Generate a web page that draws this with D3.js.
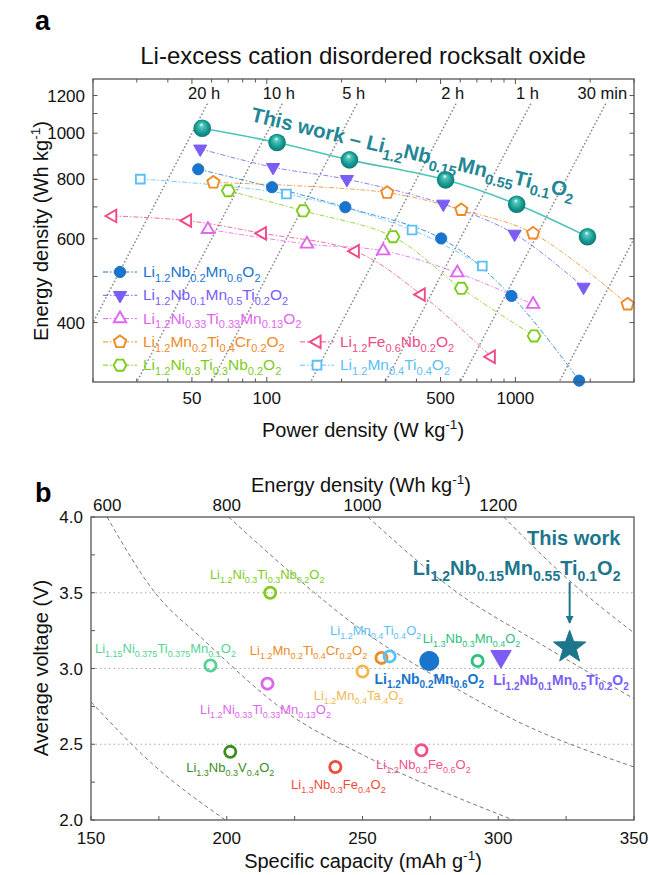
<!DOCTYPE html>
<html>
<head>
<meta charset="utf-8">
<script src="https://cdn.jsdelivr.net/npm/d3@7"></script>
<style>
  body { margin: 0; padding: 0; background: white; }
  svg text { font-family: "Liberation Sans", Arial, sans-serif; }
</style>
</head>
<body>
<script>
// ---------- panel a : Ragone plot (power density vs energy density, W/kg & Wh/kg) ----------
var thisWorkPE = [[55,1024],[110,956],[215,879],[524,798],[1012,709],[1950,606]];
var nbMnPE     = [[53,840],[105,770],[207,699],[503,601],[964,455],[1805,302]];
var nbMnTiPE   = [[54,927],[106,848],[210,800],[513,710],[993,614],[1880,475]];
var niTiMnPE   = [[58,628],[145,585],[294,566],[584,509],[1178,437]];
var mnTiCrPE   = [[61,788],[305,750],[606,690],[1178,616],[2828,437]];
var niTiNbPE   = [[70,757],[140,687],[322,606],[606,472],[1189,375]];
var feNbPE     = [[24,670],[48,655],[96,616],[227,565],[418,458],[800,339]];
var mnTiPE     = [[31,801],[120,745],[384,626],[736,526]];

var namesA = ["Li1.2Nb0.2Mn0.6O2","Li1.2Nb0.1Mn0.5Ti0.2O2","Li1.2Ni0.33Ti0.33Mn0.13O2",
              "Li1.2Mn0.2Ti0.4Cr0.2O2","Li1.2Ni0.3Ti0.3Nb0.2O2","Li1.2Fe0.6Nb0.2O2","Li1.2Mn0.4Ti0.4O2"];
var seriesA = [nbMnPE, nbMnTiPE, niTiMnPE, mnTiCrPE, niTiNbPE, feNbPE, mnTiPE];

// discharge time lines (hours) drawn as E = t * P
var rateHours  = [20, 10, 5, 2, 1, 0.5, 0.2];
var rateLabels = ["20 h","10 h","5 h","2 h","1 h","30 min",""];

// ---------- panel b : average voltage vs specific capacity ----------
var namesB = ["Li1.2Ni0.3Ti0.3Nb0.2O2","Li1.15Ni0.375Ti0.375Mn0.1O2","Li1.2Ni0.33Ti0.33Mn0.13O2",
              "Li1.2Mn0.4Ta.4O2","Li1.2Mn0.2Ti0.4Cr0.2O2","Li1.2Mn0.4Ti0.4O2","Li1.2Nb0.2Mn0.6O2",
              "Li1.3Nb0.3Mn0.4O2","Li1.2Nb0.1Mn0.5Ti0.2O2","Li1.3Nb0.3V0.4O2","Li1.3Nb0.3Fe0.4O2",
              "Li1.2Nb0.2Fe0.6O2"];
var capacityB = [216, 194, 215, 250, 257, 260, 274.6, 292.4, 301, 201.3, 240, 271.7];
var voltageB  = [3.50, 3.02, 2.90, 2.98, 3.07, 3.08, 3.05, 3.05, 3.08, 2.45, 2.35, 2.46];
var thisWorkCap = 326.3, thisWorkVolt = 3.14;

// constant energy guide curves, points as (capacity, voltage)
var energyGuides = [
  [[150,2.78],[172,2.38],[199.5,2.0]],
  [[155.9,4.0],[173.6,3.5],[191.4,3.19],[224.5,2.68],[249,2.44],[305.6,2.0]],
  [[200.7,4.0],[227,3.58],[245.5,3.31],[283.4,2.88],[306,2.66],[350,2.35]],
  [[252,4.0],[285,3.5],[313,3.19],[350,2.8]],
  [[302,4.0],[325,3.6],[350,3.235]]
];
var energyTicks = [600, 800, 1000, 1200];

// ---------- styles ----------
var colorsA = ["#1874cd","#7b5cf5","#e066f0","#f08a24","#7ccc1a","#f04a8a","#5cc0f8"];
var shapesA = ["circle","tridown","triup","pent","hex","trileft","square"];
var filledA = [true, true, false, false, false, false, false];
var colorsB = ["#80cc1a","#55d393","#dd66ee","#f0b850","#f08a24","#5cc0f8","#1874cd",
               "#2cc07a","#7b5cf5","#3d8c1e","#f04b3c","#f0508c"];
var teal = "#1f8795", tealDark = "#1d768c";

var svg = d3.select("body").append("svg").attr("width", 649).attr("height", 875);
var defs = svg.append("defs");

var grad = defs.append("radialGradient").attr("id","sphere")
  .attr("cx","50%").attr("cy","50%").attr("r","55%").attr("fx","45%").attr("fy","28%");
grad.append("stop").attr("offset","0%").attr("stop-color","#f4fffd");
grad.append("stop").attr("offset","22%").attr("stop-color","#52c6bb");
grad.append("stop").attr("offset","65%").attr("stop-color","#139a92");
grad.append("stop").attr("offset","100%").attr("stop-color","#0c6f6a");

defs.append("clipPath").attr("id","clipA").append("rect")
  .attr("x",93).attr("y",79).attr("width",541).attr("height",303);
defs.append("clipPath").attr("id","clipB").append("rect")
  .attr("x",91).attr("y",517).attr("width",543).attr("height",303);

defs.append("marker").attr("id","arrowHead").attr("viewBox","0 0 10 10")
  .attr("refX",9).attr("refY",5).attr("markerWidth",4).attr("markerHeight",4)
  .attr("orient","auto")
  .append("path").attr("d","M0,0 L10,5 L0,10 z").attr("fill",tealDark);

// chemical formula with subscripts
function chem(textSel, str, fs, ss) {
  var parts = str.match(/[0-9.]+|[^0-9.]+/g);
  var down = false, shift = fs * 0.3;
  parts.forEach(function(p) {
    var num = /^[0-9.]+$/.test(p);
    var t = textSel.append("tspan").attr("font-size", num ? ss : fs).text(p);
    if (num && !down) { t.attr("dy", shift); down = true; }
    else if (!num && down) { t.attr("dy", -shift); down = false; }
  });
  return textSel;
}

function unitText(textSel, before, sup, after, fs) {
  textSel.append("tspan").text(before);
  textSel.append("tspan").attr("font-size", fs * 0.68).attr("dy", -fs * 0.38).text(sup);
  textSel.append("tspan").attr("dy", fs * 0.38).text(after);
}

function polygon(n, r, rot, inner) {
  var pts = [];
  var k = inner ? 2 * n : n;
  for (var i = 0; i < k; i++) {
    var rr = (inner && i % 2 == 1) ? inner : r;
    var a = (rot + i * 360 / k - 90) * Math.PI / 180;
    pts.push([rr * Math.cos(a), rr * Math.sin(a)]);
  }
  return "M" + pts.map(function(p){ return p[0].toFixed(2) + "," + p[1].toFixed(2); }).join("L") + "Z";
}

function drawMarker(g, shape, x, y, color, filled, s) {
  s = s || 1;
  var el;
  if (shape == "circle") {
    el = g.append("circle").attr("cx", x).attr("cy", y).attr("r", (filled ? 5.6 : 5) * s);
  } else {
    var d;
    if (shape == "tridown") d = polygon(3, 7.6 * s, 180);
    if (shape == "triup")   d = polygon(3, 7.2 * s, 0);
    if (shape == "trileft") d = polygon(3, 7.2 * s, -90);
    if (shape == "pent")    d = polygon(5, 6.4 * s, 0);
    if (shape == "hex")     d = polygon(6, 6.4 * s, 30);
    if (shape == "square")  d = polygon(4, 6.2 * s, 45);
    if (shape == "star")    d = polygon(5, 17 * s, 0, 7 * s);
    el = g.append("path").attr("d", d).attr("transform", "translate(" + x + "," + y + ")");
  }
  if (filled) el.attr("fill", color).attr("stroke", color).attr("stroke-width", 1);
  else el.attr("fill", "white").attr("stroke", color).attr("stroke-width", 1.9);
  return el;
}

// ============================ panel a ============================
var xA = d3.scaleLog().domain([20, 3000]).range([93, 634]);
var yA = d3.scaleLog().domain([300, 1300]).range([382, 79]);

svg.append("text").attr("x", 35).attr("y", 30).attr("font-size", 27).attr("font-weight", "bold")
  .text("a");
svg.append("text").attr("x", 363).attr("y", 64).attr("text-anchor", "middle").attr("font-size", 24)
  .attr("fill", "#111").text("Li-excess cation disordered rocksalt oxide");

var gA = svg.append("g");

// rate lines
var plotA = gA.append("g").attr("clip-path", "url(#clipA)");
rateHours.forEach(function(t, i) {
  plotA.append("line")
    .attr("x1", xA(1150 / t)).attr("y1", yA(1150))
    .attr("x2", xA(300 / t)).attr("y2", yA(300))
    .attr("stroke", "#8a8a8a").attr("stroke-width", 1.7)
    .attr("stroke-dasharray", "0.1,3.6").attr("stroke-linecap", "round");
  if (rateLabels[i]) {
    gA.append("text").attr("x", xA(1150 / t) - 3).attr("y", 99)
      .attr("text-anchor", "middle").attr("font-size", 16.5).attr("fill", "#111")
      .text(rateLabels[i]);
  }
});

var lineA = d3.line().x(function(d){ return xA(d[0]); }).y(function(d){ return yA(d[1]); })
  .curve(d3.curveCatmullRom.alpha(0.5));

seriesA.forEach(function(s, i) {
  plotA.append("path").attr("d", lineA(s)).attr("fill", "none")
    .attr("stroke", colorsA[i]).attr("stroke-width", 1).attr("stroke-opacity", 0.8)
    .attr("stroke-dasharray", "5,2,1.5,2");
});
plotA.append("path").attr("d", lineA(thisWorkPE)).attr("fill", "none")
  .attr("stroke", "#4cc4b8").attr("stroke-width", 1.6);

var markA = gA.append("g");
seriesA.forEach(function(s, i) {
  s.forEach(function(d) {
    drawMarker(markA, shapesA[i], xA(d[0]), yA(d[1]), colorsA[i], filledA[i]);
  });
});
markA.selectAll("circle.tw").data(thisWorkPE).enter().append("circle")
  .attr("class", "tw")
  .attr("cx", function(d){ return xA(d[0]); }).attr("cy", function(d){ return yA(d[1]); })
  .attr("r", 8.8).attr("fill", "url(#sphere)");

// label along the curve
var twLabel = gA.append("text").attr("transform", "translate(250,121) rotate(13.5)")
  .attr("font-weight", "bold").attr("fill", teal);
twLabel.append("tspan").attr("font-size", 20.5).text("This work \u2013 ");
chem(twLabel, "Li1.2Nb0.15Mn0.55Ti0.1O2", 20.5, 14.5);

// legend
namesA.forEach(function(name, i) {
  var col = i < 5 ? 0 : 1;
  var row = i < 5 ? i : i - 2;
  var mx = col == 0 ? 120 : 317;
  var ly = 272 + row * 23.3;
  gA.append("line").attr("x1", mx - 17).attr("x2", mx + 17).attr("y1", ly).attr("y2", ly)
    .attr("stroke", colorsA[i]).attr("stroke-width", 1).attr("stroke-dasharray", "5,2,1.5,2");
  drawMarker(gA, shapesA[i], mx, ly, colorsA[i], filledA[i]);
  var t = gA.append("text").attr("x", mx + 23).attr("y", ly + 5).attr("fill", colorsA[i]);
  chem(t, name, 15.5, 11);
});

// frame and ticks
gA.append("rect").attr("x", 93).attr("y", 79).attr("width", 541).attr("height", 303)
  .attr("fill", "none").attr("stroke", "#555").attr("stroke-width", 1.3);

var xTicksA = d3.range(20, 100, 10).concat(d3.range(100, 1000, 100)).concat([1000, 2000, 3000]);
var xLabelsA = [50, 100, 500, 1000];
xTicksA.forEach(function(v) {
  var L = xLabelsA.indexOf(v) >= 0 ? 5 : 3.5;
  gA.append("line").attr("x1", xA(v)).attr("x2", xA(v)).attr("y1", 382).attr("y2", 382 - L)
    .attr("stroke", "#555");
  gA.append("line").attr("x1", xA(v)).attr("x2", xA(v)).attr("y1", 79).attr("y2", 79 + L)
    .attr("stroke", "#555");
});
xLabelsA.forEach(function(v) {
  gA.append("text").attr("x", xA(v)).attr("y", 404).attr("text-anchor", "middle")
    .attr("font-size", 17).attr("fill", "#111").text(v);
});
var yTicksA = d3.range(400, 1300, 100);
var yLabelsA = [400, 600, 800, 1000, 1200];
yTicksA.forEach(function(v) {
  gA.append("line").attr("x1", 93).attr("x2", 97.5).attr("y1", yA(v)).attr("y2", yA(v)).attr("stroke", "#555");
  gA.append("line").attr("x1", 634).attr("x2", 629.5).attr("y1", yA(v)).attr("y2", yA(v)).attr("stroke", "#555");
});
yLabelsA.forEach(function(v) {
  gA.append("text").attr("x", 85).attr("y", yA(v) + 6).attr("text-anchor", "end")
    .attr("font-size", 17).attr("fill", "#111").text(v);
});

unitText(gA.append("text").attr("x", 363).attr("y", 437).attr("text-anchor", "middle")
  .attr("font-size", 20).attr("fill", "#111"), "Power density (W kg", "-1", ")", 20);
unitText(gA.append("text").attr("transform", "translate(48,231) rotate(-90)").attr("text-anchor", "middle")
  .attr("font-size", 20).attr("fill", "#111"), "Energy density (Wh kg", "-1", ")", 20);

// ============================ panel b ============================
var xB = d3.scaleLinear().domain([150, 350]).range([91, 634]);
var yB = d3.scaleLinear().domain([2, 4]).range([820, 517]);
var xTop = d3.scaleLinear().domain([600, 1400]).range([91, 634]);

svg.append("text").attr("x", 35).attr("y", 502).attr("font-size", 27).attr("font-weight", "bold")
  .text("b");

var gB = svg.append("g");
var plotB = gB.append("g").attr("clip-path", "url(#clipB)");

[2.5, 3.0, 3.5].forEach(function(v) {
  plotB.append("line").attr("x1", 91).attr("x2", 634).attr("y1", yB(v)).attr("y2", yB(v))
    .attr("stroke", "#aaa").attr("stroke-width", 1.1).attr("stroke-dasharray", "1.5,3");
});

var guideLine = d3.line().x(function(d){ return xB(d[0]); }).y(function(d){ return yB(d[1]); })
  .curve(d3.curveMonotoneX);
energyGuides.forEach(function(c) {
  plotB.append("path").attr("d", guideLine(c)).attr("fill", "none")
    .attr("stroke", "#777").attr("stroke-width", 1).attr("stroke-dasharray", "4,3");
});

// label offsets from each point (px)
var labelOffB = [[-3,-14],[-45,-12],[-2,30],[-4,28.5],[-73,-3],[-14,-21],[0,23],[-6,-18],[60,29],[0,20],[3,22],[2,19]];
var boldB = [false,false,false,false,false,false,true,false,true,false,false,false];

namesB.forEach(function(name, i) {
  var x = xB(capacityB[i]), y = yB(voltageB[i]);
  if (i == 6) drawMarker(gB, "circle", x, y, colorsB[i], true, 1.7);
  else if (i == 8) drawMarker(gB, "tridown", x, y, colorsB[i], true, 1.55);
  else gB.append("circle").attr("cx", x).attr("cy", y).attr("r", 5.6)
    .attr("fill", "none").attr("stroke", colorsB[i]).attr("stroke-width", 2.8);
  var t = gB.append("text").attr("x", x + labelOffB[i][0]).attr("y", y + labelOffB[i][1])
    .attr("text-anchor", "middle").attr("fill", colorsB[i]);
  if (boldB[i]) { t.attr("font-weight", "bold"); chem(t, name, 14, 10); }
  else chem(t, name, 13, 9);
});

drawMarker(gB, "star", xB(thisWorkCap), yB(thisWorkVolt), tealDark, true);
gB.append("line").attr("x1", xB(thisWorkCap)).attr("x2", xB(thisWorkCap))
  .attr("y1", yB(3.57)).attr("y2", yB(3.30))
  .attr("stroke", tealDark).attr("stroke-width", 2).attr("marker-end", "url(#arrowHead)");
gB.append("text").attr("x", xB(345)).attr("y", yB(3.815)).attr("text-anchor", "end")
  .attr("font-size", 20).attr("font-weight", "bold").attr("fill", tealDark).text("This work");
chem(gB.append("text").attr("x", xB(345)).attr("y", yB(3.617)).attr("text-anchor", "end")
  .attr("font-weight", "bold").attr("fill", tealDark), "Li1.2Nb0.15Mn0.55Ti0.1O2", 20, 14);

gB.append("rect").attr("x", 91).attr("y", 517).attr("width", 543).attr("height", 303)
  .attr("fill", "none").attr("stroke", "#555").attr("stroke-width", 1.3);

d3.range(150, 351, 25).forEach(function(v) {
  gB.append("line").attr("x1", xB(v)).attr("x2", xB(v)).attr("y1", 820).attr("y2", 816)
    .attr("stroke", "#555");
  if (v % 50 == 0) gB.append("text").attr("x", xB(v)).attr("y", 844).attr("text-anchor", "middle")
    .attr("font-size", 17).attr("fill", "#111").text(v);
});
d3.range(2, 4.01, 0.25).forEach(function(v) {
  gB.append("line").attr("x1", 91).attr("x2", 95).attr("y1", yB(v)).attr("y2", yB(v))
    .attr("stroke", "#555");
  if (Math.abs(v * 2 - Math.round(v * 2)) < 1e-6) gB.append("text").attr("x", 83).attr("y", yB(v) + 6)
    .attr("text-anchor", "end").attr("font-size", 17).attr("fill", "#111").text(v.toFixed(1));
});
energyTicks.forEach(function(v, i) {
  gB.append("text").attr("x", i == 0 ? xTop(v) + 2 : xTop(v)).attr("y", 511)
    .attr("text-anchor", i == 0 ? "start" : "middle")
    .attr("font-size", 17).attr("fill", "#111").text(v);
});

unitText(gB.append("text").attr("x", 361).attr("y", 492).attr("text-anchor", "middle")
  .attr("font-size", 20).attr("fill", "#111"), "Energy density (Wh kg", "-1", ")", 20);
unitText(gB.append("text").attr("x", 363).attr("y", 868).attr("text-anchor", "middle")
  .attr("font-size", 20).attr("fill", "#111"), "Specific capacity (mAh g", "-1", ")", 20);
gB.append("text").attr("transform", "translate(48,668) rotate(-90)").attr("text-anchor", "middle")
  .attr("font-size", 20).attr("fill", "#111").text("Average voltage (V)");
</script>
</body>
</html>
